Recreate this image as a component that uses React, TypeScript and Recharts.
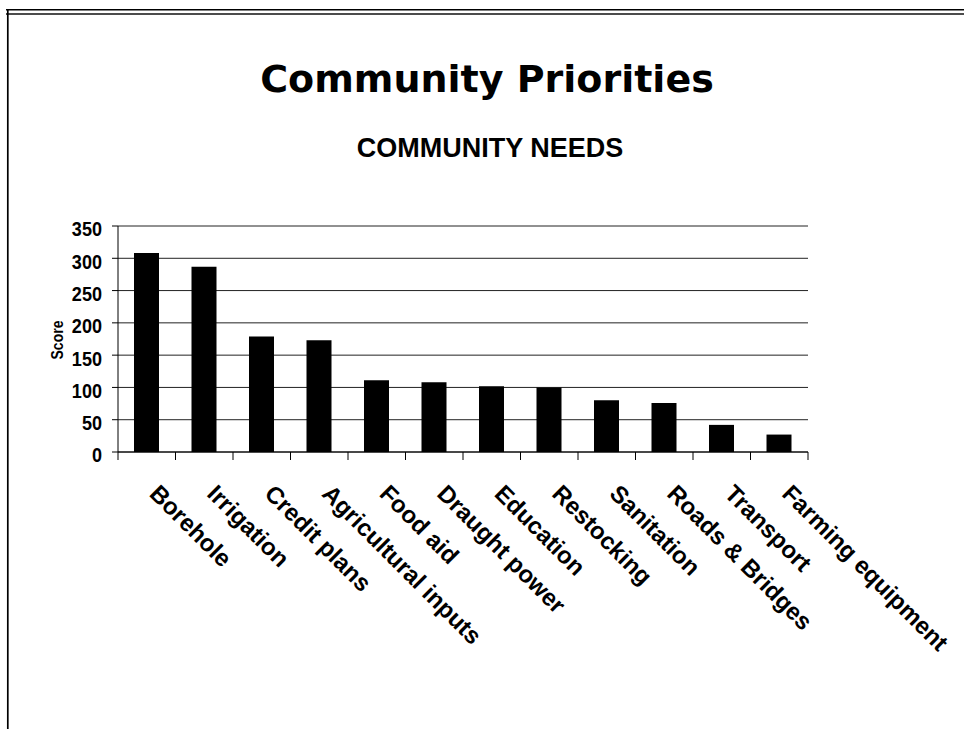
import React from 'react';
import { BarChart, Bar, XAxis, YAxis, CartesianGrid } from 'recharts';

const categories = [
  'Borehole',
  'Irrigation',
  'Credit plans',
  'Agricultural inputs',
  'Food aid',
  'Draught power',
  'Education',
  'Restocking',
  'Sanitation',
  'Roads & Bridges',
  'Transport',
  'Farming equipment',
];
const scores = [308, 287, 179, 173, 111, 108, 102, 100, 80, 76, 42, 27];
const yTicks = [0, 50, 100, 150, 200, 250, 300, 350];

const data = categories.map((name, i) => ({ name, score: scores[i] }));

const YTick = (props: any) => {
  const { x, y, payload } = props;
  return (
    <text
      x={0}
      y={0}
      dy="0.355em"
      transform={`translate(${x}, ${y + 3}) scale(0.86, 1)`}
      textAnchor="end"
      fontFamily="'Liberation Sans', Arial, sans-serif"
      fontWeight="bold"
      fontSize={21}
      fill="#000"
    >
      {payload.value}
    </text>
  );
};

const CatTick = (props: any) => {
  const { x, y, payload, index, visibleTicksCount, width } = props;
  let half = payload && typeof payload.offset === 'number' && payload.offset > 0 ? payload.offset : 0;
  if (!half && width && visibleTicksCount) half = width / visibleTicksCount / 2;
  const ax = x + 1.5;
  const ay = y + 43;
  const isLast = visibleTicksCount ? index === visibleTicksCount - 1 : index === categories.length - 1;
  return (
    <g>
      <line x1={x - half} y1={y} x2={x - half} y2={y + 8} stroke="#000" strokeWidth={1} />
      {isLast && <line x1={x + half} y1={y} x2={x + half} y2={y + 8} stroke="#000" strokeWidth={1} />}
      <text
        x={ax}
        y={ay}
        transform={`rotate(45, ${ax}, ${ay})`}
        textAnchor="start"
        fontFamily="'Liberation Sans', Arial, sans-serif"
        fontWeight="bold"
        fontSize={24}
        fill="#000"
      >
        {payload.value}
      </text>
    </g>
  );
};

export default function App() {
  return (
    <div style={{ position: 'absolute', left: 0, top: 0, width: 964, height: 729, background: '#fff' }}>
      <BarChart
        width={964}
        height={729}
        data={data}
        margin={{ top: 226, right: 156, bottom: 77, left: 0 }}
      >
        <CartesianGrid vertical={false} stroke="#222" strokeWidth={1} />
        <XAxis
          dataKey="name"
          interval={0}
          axisLine={{ stroke: '#000', strokeWidth: 1 }}
          tickLine={false}
          tickSize={0}
          tickMargin={0}
          tick={<CatTick />}
          height={200}
        />
        <YAxis
          domain={[0, 350]}
          ticks={yTicks}
          width={118}
          tickSize={6}
          tickMargin={10}
          axisLine={{ stroke: '#000', strokeWidth: 1 }}
          tickLine={{ stroke: '#000', strokeWidth: 1 }}
          tick={<YTick />}
          interval={0}
        />
        <Bar dataKey="score" fill="#000" barSize={25} isAnimationActive={false} />
      </BarChart>
      <svg
        width={964}
        height={729}
        style={{ position: 'absolute', left: 0, top: 0, pointerEvents: 'none' }}
      >
        <line x1={6} y1={9.7} x2={964} y2={9.7} stroke="#000" strokeWidth={1.5} />
        <line x1={6} y1={14} x2={964} y2={14} stroke="#111" strokeWidth={1.4} />
        <line x1={7.8} y1={9} x2={7.8} y2={729} stroke="#000" strokeWidth={1.7} />
        <text
          x={487}
          y={92}
          textAnchor="middle"
          fontFamily="'DejaVu Sans', sans-serif"
          fontWeight="bold"
          fontSize={38}
          fill="#000"
        >
          Community Priorities
        </text>
        <text
          x={490}
          y={157}
          textAnchor="middle"
          fontFamily="'Liberation Sans', Arial, sans-serif"
          fontWeight="bold"
          fontSize={27}
          fill="#000"
        >
          COMMUNITY NEEDS
        </text>
        <text
          x={0}
          y={0}
          transform="translate(57.5, 340) rotate(-90) scale(0.88, 1)"
          textAnchor="middle"
          dy="0.355em"
          fontFamily="'Liberation Sans', Arial, sans-serif"
          fontWeight="bold"
          fontSize={16}
          fill="#000"
        >
          Score
        </text>
      </svg>
    </div>
  );
}
